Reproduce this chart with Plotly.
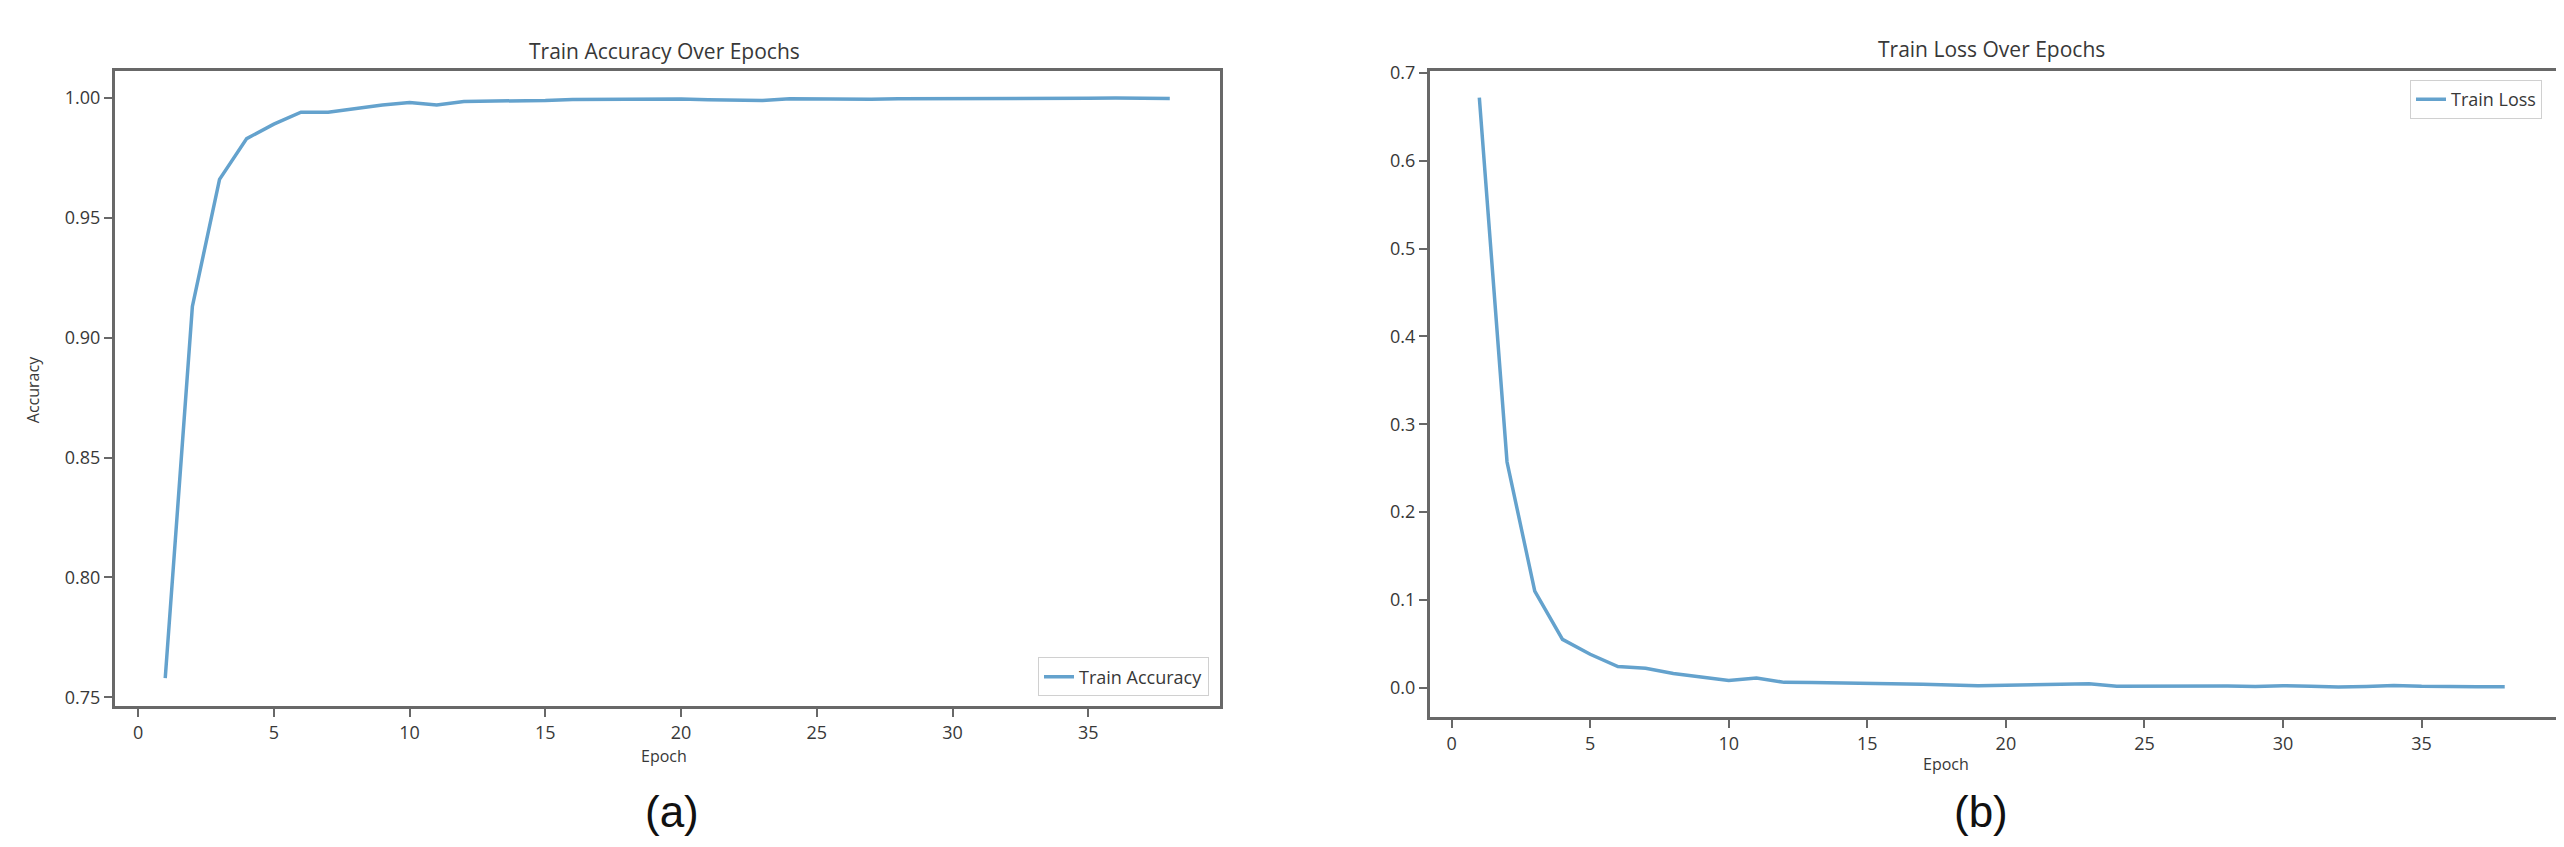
import plotly.graph_objects as go

W, H = 2564, 847

epochs = list(range(1, 39))

train_accuracy = [
    0.758, 0.913, 0.966, 0.983, 0.989, 0.994, 0.994, 0.9955, 0.997, 0.998,
    0.997, 0.9985, 0.9986, 0.9987, 0.9989, 0.9993, 0.9994, 0.9994, 0.9996, 0.9995,
    0.9992, 0.999, 0.9989, 0.9996, 0.9995, 0.9995, 0.9994, 0.9996, 0.9996, 0.9995,
    0.9997, 0.9998, 0.9997, 0.9996, 0.9998, 0.9999, 0.9998, 0.9997,
]

train_loss = [
    0.672, 0.257, 0.110, 0.055, 0.038, 0.024, 0.022, 0.016, 0.012, 0.008,
    0.011, 0.006, 0.0058, 0.0055, 0.0052, 0.0045, 0.0038, 0.003, 0.0022, 0.0028,
    0.0035, 0.0042, 0.0045, 0.0015, 0.0018, 0.0016, 0.0020, 0.0018, 0.0012, 0.0022,
    0.0015, 0.0006, 0.0012, 0.0025, 0.0015, 0.0008, 0.0009, 0.0010,
]

acc_ticks = [0.75, 0.80, 0.85, 0.90, 0.95, 1.00]
loss_ticks = [0.0, 0.1, 0.2, 0.3, 0.4, 0.5, 0.6, 0.7]
epoch_ticks = [0, 5, 10, 15, 20, 25, 30, 35]

LINE = "#64a2cd"
FRAME = "#686868"
TXT = "#383838"
FONT = "Open Sans"

def px(x):
    return x / W

def py(y):
    return 1 - y / H

fig = go.Figure()
fig.add_trace(go.Scatter(x=epochs, y=train_accuracy, mode="lines", name="Train Accuracy",
                         line=dict(color=LINE, width=3.5), xaxis="x", yaxis="y", legend="legend"))
fig.add_trace(go.Scatter(x=epochs, y=train_loss, mode="lines", name="Train Loss",
                         line=dict(color=LINE, width=3.5), xaxis="x2", yaxis="y2", legend="legend2"))

axis_common = dict(showgrid=False, zeroline=False, showline=True, mirror=True,
                   linecolor=FRAME, linewidth=3, ticks="outside", ticklen=8,
                   tickwidth=2, tickcolor=FRAME,
                   tickfont=dict(family=FONT, size=18, color=TXT))

fig.update_layout(
    width=W, height=H,
    margin=dict(l=0, r=0, t=0, b=0),
    paper_bgcolor="white", plot_bgcolor="white",
    xaxis=dict(domain=[px(107), px(1212)], range=[-0.85, 39.85], tickvals=epoch_ticks,
               anchor="y", **axis_common),
    yaxis=dict(domain=[py(698), py(53)], range=[0.7463, 1.0111], tickvals=acc_ticks,
               tickformat=".2f", anchor="x", **axis_common),
    xaxis2=dict(domain=[px(1422), px(2548)], range=[-0.78, 39.85], tickvals=epoch_ticks,
                anchor="y2", **axis_common),
    yaxis2=dict(domain=[py(709), py(53)], range=[-0.0336, 0.7022], tickvals=loss_ticks,
                tickformat=".1f", anchor="x2", **axis_common),
    legend=dict(x=px(1201), y=py(688), xanchor="right", yanchor="bottom",
                bgcolor="white", bordercolor="#d0d0d0", borderwidth=1,
                font=dict(family=FONT, size=18, color=TXT)),
    legend2=dict(x=px(2534), y=py(62), xanchor="right", yanchor="top",
                 bgcolor="white", bordercolor="#d0d0d0", borderwidth=1,
                 font=dict(family=FONT, size=18, color=TXT)),
    showlegend=True,
)

def ann(text, x, y, size, angle=0, family=FONT, color=TXT):
    fig.add_annotation(text=text, x=px(x), y=py(y), xref="paper", yref="paper",
                       xanchor="center", yanchor="middle", showarrow=False,
                       textangle=angle, font=dict(family=family, size=size, color=color))

ann("Train Accuracy Over Epochs", 657, 32, 21)
ann("Train Loss Over Epochs", 1983, 30, 21)
ann("Accuracy", 25, 377, 16, angle=-90)
ann("Epoch", 656, 748, 16)
ann("Epoch", 1938, 757, 16)
ann("(a)", 664, 805, 44, family="Liberation Sans", color="#111111")
ann("(b)", 1973, 805, 44, family="Liberation Sans", color="#111111")

fig.write_html("out.html")
